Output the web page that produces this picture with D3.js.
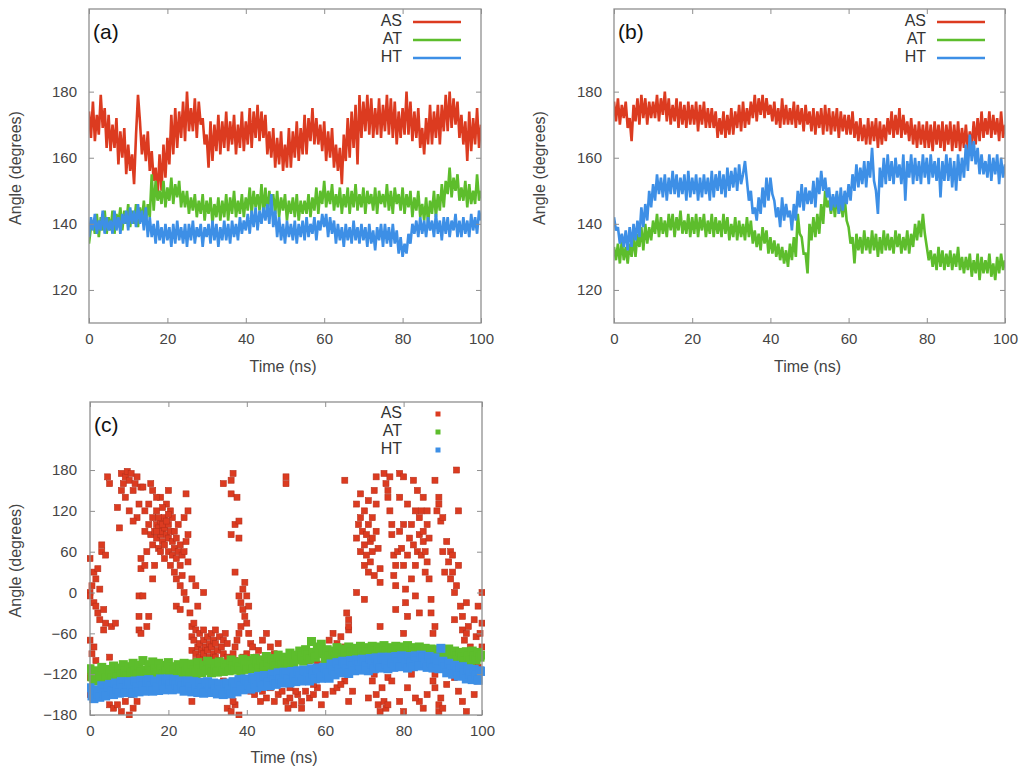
<!DOCTYPE html>
<html>
<head>
<meta charset="utf-8">
<script src="https://cdn.jsdelivr.net/npm/d3@7"></script>
<style>
  html, body { margin: 0; padding: 0; background: #fff; }
  svg { font-family: "Liberation Sans", Arial, sans-serif; }
</style>
</head>
<body>
<svg id="chart" width="1025" height="772"></svg>
<script>
// ---------------- DATA ----------------
const seriesNames = ["AS", "AT", "HT"];
const xTicks = [0, 20, 40, 60, 80, 100];
const yTicksAB = [120, 140, 160, 180];
const yTicksC = [-180, -120, -60, 0, 60, 120, 180];
const timeStep = 0.5; // ns between samples of the series below

// Panel (a)
const asA = [
174,166,177,165,173,167,179,169,175,163,
173,162,170,163,172,158,168,160,169,155,
164,156,161,152,167,179,171,161,167,159,
168,156,162,153,157,148,161,150,164,154,
166,158,173,161,175,163,174,166,177,165,
180,168,175,168,178,166,177,170,172,164,
167,157,171,159,170,162,173,161,171,163,
174,162,171,164,173,161,170,163,174,162,
171,164,175,163,174,166,176,165,174,166,
173,161,168,160,169,157,166,158,168,156,
164,157,169,157,168,160,171,159,169,161,
173,161,172,165,175,164,172,164,170,162,
171,159,168,160,169,157,164,156,163,152,
167,159,172,160,174,163,176,158,179,166,
177,168,179,167,178,166,175,167,178,166,
176,168,179,167,178,166,177,164,174,166,
175,167,180,167,177,165,174,166,175,163,
169,161,172,164,176,164,174,166,176,164,
176,168,179,168,180,169,178,170,177,166,
173,164,171,159,174,162,172,164,175,163,
170];
const atA = [
134,139,141,137,143,136,142,138,144,137,
142,138,144,137,143,140,145,138,144,140,
146,139,144,140,146,139,145,141,147,140,
146,142,155,144,153,147,150,146,153,145,
151,147,154,146,152,148,153,145,150,145,
150,143,148,144,149,142,147,143,149,141,
147,143,148,140,146,142,148,141,147,142,
149,141,148,143,150,142,147,143,149,142,
148,144,151,143,150,145,149,144,152,143,
151,143,150,145,149,143,150,142,148,144,
149,141,147,143,148,142,149,141,147,143,
147,143,149,142,148,144,151,143,150,146,
153,145,150,146,152,144,149,145,151,143,
149,145,151,143,150,145,152,144,149,145,
151,143,150,146,149,144,151,143,150,146,
149,145,152,144,150,143,151,146,149,144,
151,143,149,145,150,142,148,144,150,142,
146,141,148,140,147,143,150,142,149,144,
152,145,153,149,157,148,154,150,155,147,
151,147,153,145,152,146,150,146,155,147,
150];
const htA = [
136,142,138,143,137,141,138,144,137,142,
138,141,137,144,138,142,137,143,140,144,
138,145,140,144,139,146,140,144,138,145,
136,142,136,140,134,141,135,139,134,140,
135,139,133,140,134,141,135,139,134,140,
133,140,135,141,134,139,136,140,133,139,
136,140,134,141,135,140,133,139,135,141,
135,140,134,141,136,140,135,142,137,141,
138,143,137,144,139,145,138,144,140,145,
141,146,140,149,139,144,136,142,135,140,
134,141,136,140,135,141,134,140,136,141,
135,142,136,140,137,142,135,141,138,143,
139,143,136,142,137,141,134,140,135,139,
133,140,135,139,134,141,135,139,134,140,
135,139,133,140,134,138,132,139,135,140,
133,140,134,139,133,140,134,138,131,136,
130,134,131,137,134,140,137,141,136,142,
137,141,136,142,138,141,136,143,137,141,
135,142,137,142,136,141,138,143,136,141,
136,142,137,141,136,143,138,142,137,144,
141];

// Panel (b)
const asB = [
177,171,178,170,176,172,177,169,172,165,
176,171,178,170,179,172,178,170,177,172,
177,172,179,171,178,173,180,171,178,170,
176,171,178,169,177,170,176,169,177,170,
176,170,177,168,176,170,177,169,175,169,
175,169,174,166,172,167,174,166,173,167,
175,167,174,169,176,168,177,169,175,170,
177,172,179,171,178,173,179,172,178,173,
176,171,177,170,175,169,178,170,176,170,
175,170,177,169,176,170,175,168,176,170,
174,168,175,167,174,169,175,167,176,168,
175,167,174,168,175,166,174,168,173,167,
173,167,174,166,171,165,172,165,170,164,
172,164,171,165,172,163,171,164,170,165,
172,167,174,166,173,167,175,166,173,167,
171,165,172,164,170,163,171,164,170,163,
171,163,170,162,171,164,170,163,171,162,
170,164,171,162,170,163,171,162,169,163,
170,162,168,163,171,164,172,165,174,166,
172,167,174,166,173,167,172,165,174,166,
170];
const atB = [
133,129,134,128,135,129,133,128,134,130,
136,130,137,133,139,132,140,134,139,135,
141,137,143,136,142,137,141,136,143,138,
143,136,142,138,144,137,141,137,143,136,
142,137,143,136,142,138,143,136,141,137,
143,136,142,137,141,136,143,137,142,135,
140,136,142,135,141,136,140,135,142,136,
141,134,138,133,137,132,139,134,138,131,
136,131,135,130,134,129,133,128,132,127,
134,129,136,130,143,137,136,131,131,125,
140,135,142,136,143,137,146,140,150,145,
147,143,148,142,149,143,147,142,148,141,
139,134,136,128,137,132,136,131,138,132,
136,131,138,132,137,130,136,131,138,132,
137,132,136,131,138,133,137,131,136,132,
138,131,137,133,140,135,141,136,143,137,
133,129,132,127,131,126,133,127,132,126,
131,127,132,126,131,127,133,126,130,125,
130,126,131,124,129,125,131,123,130,125,
129,125,131,124,128,123,130,125,131,126,
129];
const htB = [
142,138,139,134,137,133,138,132,139,133,
140,135,141,136,145,139,146,141,150,145,
152,147,155,149,154,148,155,147,154,149,
156,149,155,148,154,149,155,147,156,148,
154,149,155,147,154,148,155,149,154,147,
156,148,155,150,156,149,155,148,157,150,
156,151,157,150,158,152,155,159,153,147,
150,143,145,141,148,143,151,145,154,147,
154,149,147,142,145,139,148,141,146,142,
144,138,146,141,150,145,152,144,151,146,
150,146,153,145,154,149,156,150,154,148,
151,144,149,145,150,143,151,144,150,146,
152,147,155,150,158,151,157,152,159,151,
159,154,163,153,150,143,157,151,160,152,
161,153,159,152,160,154,158,152,161,147,
159,154,161,152,160,153,159,152,161,154,
160,152,161,154,159,153,160,148,159,153,
161,153,160,151,159,150,161,153,160,154,
164,156,167,159,165,158,163,155,161,155,
159,154,161,153,160,155,161,152,160,154,
158];

// Panel (c): AT and HT sampled every timeStep; AS as scattered [time, angle] points
const atC = [
-112,-124,-130,-115,-121,-128,-110,-122,-126,-113,
-119,-125,-108,-117,-124,-111,-120,-106,-116,-123,
-109,-118,-104,-115,-121,-107,-117,-100,-114,-120,
-106,-116,-102,-112,-119,-104,-113,-120,-107,-115,
-103,-118,-109,-114,-121,-106,-113,-119,-104,-115,
-110,-121,-105,-114,-119,-103,-112,-118,-107,-115,
-101,-113,-118,-104,-112,-117,-102,-110,-116,-105,
-111,-115,-99,-108,-114,-102,-109,-116,-98,-107,
-113,-100,-106,-112,-97,-104,-111,-99,-105,-110,
-94,-102,-109,-97,-103,-108,-92,-100,-106,-95,
-101,-105,-89,-97,-104,-92,-99,-86,-94,-101,
-84,-92,-98,-72,-88,-95,-80,-90,-76,-87,
-97,-84,-93,-99,-86,-94,-81,-91,-96,-83,
-90,-95,-80,-88,-94,-82,-89,-95,-79,-87,
-93,-81,-88,-94,-79,-86,-92,-80,-87,-93,
-78,-86,-92,-81,-87,-93,-79,-85,-91,-80,
-87,-92,-78,-86,-93,-81,-88,-94,-80,-87,
-95,-82,-89,-95,-83,-90,-96,-84,-91,-97,
-85,-90,-97,-83,-92,-98,-86,-93,-99,-88,
-95,-101,-87,-94,-100,-86,-93,-99,-88,-95,
-92];
const htC = [
-140,-152,-156,-143,-149,-154,-137,-147,-152,-139,
-135,-145,-150,-133,-142,-148,-131,-141,-147,-134,
-131,-140,-148,-130,-139,-146,-129,-138,-145,-131,
-128,-137,-145,-130,-139,-144,-127,-136,-143,-129,
-127,-135,-143,-128,-136,-142,-130,-138,-145,-131,
-130,-139,-146,-131,-140,-147,-132,-141,-148,-133,
-131,-140,-147,-133,-142,-149,-134,-143,-150,-135,
-133,-142,-149,-131,-140,-146,-128,-137,-143,-127,
-128,-136,-142,-125,-134,-140,-123,-132,-138,-122,
-123,-131,-137,-120,-129,-135,-118,-127,-133,-117,
-119,-127,-133,-116,-124,-131,-115,-123,-130,-114,
-116,-124,-130,-112,-120,-127,-111,-119,-126,-110,
-111,-119,-126,-105,-114,-121,-103,-112,-118,-101,
-104,-112,-119,-100,-108,-115,-99,-107,-114,-98,
-100,-108,-115,-97,-105,-112,-96,-104,-111,-95,
-97,-105,-112,-95,-103,-110,-94,-102,-109,-93,
-96,-104,-111,-94,-102,-109,-93,-101,-108,-92,
-95,-103,-110,-94,-103,-111,-96,-104,-112,-82,
-101,-110,-118,-104,-112,-120,-107,-115,-123,-110,
-109,-118,-127,-112,-120,-128,-113,-121,-129,-115,
-116];
const asC = [
[0,50],[0,0],[0,-5],[0,-70],[0,-115],[0,-125],[0,-150],[0.5,10],[0.5,-90],[1,-15],[1,30],[1,-80],
[1.5,20],[1.5,-20],[1.5,-100],[2,35],[2,-30],[2.5,5],[2.5,-40],[3,60],[3,70],[3.5,-25],[3.5,-55],
[4,55],[4,-45],[4.5,170],[5,160],[5.5,-50],[5,-95],[6.5,-45],[5,-165],[6,-170],[7,-165],[8,-175],
[9,-160],[10,-180],[11,-170],[12,-160],[10.5,-150],[8.5,-140],[7,125],[7.5,95],[8,150],[8,175],
[8.5,160],[9,170],[9,140],[9.5,178],[10,165],[10,120],[10.5,175],[11,150],[11.5,160],[12,110],
[11,105],[12,170],[12.5,130],[13,155],[13,50],[13,35],[12.5,-5],[12.5,-35],[12.5,-55],[13.5,-5],[14,40],
[13.5,155],[14,120],[14,90],[14.5,60],[15,100],[15,130],[15.5,85],[15.5,160],[16,110],[16,70],[16,150],
[16.5,90],[16.5,40],[17,100],[17,80],[17,120],[17.5,95],[17.5,65],[18,105],[18,85],[18,60],[18,140],
[18.5,90],[18.5,75],[19,110],[19,95],[19,70],[19,50],[19.5,85],[19.5,130],[20,100],[20,80],[20,60],
[20,150],[20.5,90],[20.5,40],[21,75],[21,110],[21,55],[21.5,65],[21.5,30],[21.5,90],[22,50],[22,80],
[22,20],[22.5,60],[22.5,100],[23,40],[23,70],[23,10],[23.5,55],[23.5,25],[24,60],[24,110],[24,0],
[24.5,145],[24.5,75],[24.5,-10],[25,85],[25,45],[25,120],[20.5,120],[18.5,125],[17,140],[16,20],
[15,-35],[14.5,-50],[13,-60],[22,-20],[23,-25],[17.5,110],[18.5,100],[19.5,105],[17,90],[20,115],
[25.5,-30],[26,-50],[26,-65],[26,-85],[26.5,-70],[26.5,-45],[27,-55],[27,-90],[27,-100],[27.5,-80],
[27.5,-20],[28,-60],[28,-75],[28,-95],[28.5,-105],[28.5,-85],[29,-70],[29,-55],[29,-90],[29.5,-80],
[29.5,-100],[30,-65],[30,-85],[30,-110],[30.5,-75],[30.5,-95],[31,-60],[31,-80],[31,-105],[31.5,-90],
[31.5,-70],[32,-75],[32,-95],[32,-55],[32.5,-85],[33,-65],[33,-100],[33.5,-80],[34,-70],[34,-90],
[34.5,-60],[35,-75],[35,-95],[26,20],[27,10],[29,0],[25,-145],[26,-160],[27.5,-130],[29,-140],
[31,-135],[33,-150],[35,-170],[36,-175],[37,-165],[38,-180],[36.5,-160],[35.5,-145],[34,-130],
[34,160],[36,165],[36.5,175],[36,145],[37.5,140],[36,85],[37,100],[38,105],[38,80],[37,30],[38,-5],
[38.5,-15],[39,-25],[39.5,-35],[39,5],[39.5,15],[40,-45],[40,-5],[40.5,-60],[40.5,-20],[41,-75],
[38.5,-50],[38,-60],[37.5,-70],[37,-80],[36.5,-90],[37,-100],[38,-115],[39,-95],[39.5,-110],[40,-90],
[41,-100],[41.5,-80],[42,-110],[42.5,-95],[43,-85],[44,-70],[45,-60],[46,-80],[47,-90],[48,-75],
[44.5,-100],[46.5,-110],[43,-115],[40,-130],[41,-145],[42,-150],[43.5,-160],[44,-145],[45,-155],
[46,-140],[47,-160],[48,-150],[49,-145],[50,-160],[51,-155],[52,-165],[53,-150],[54,-160],[55,-145],
[50.5,-170],[52.5,-145],[54,-170],[56,-155],[57,-150],[58,-140],[59,-165],[60,-150],[48,-130],
[51,-140],[55,-130],[57,-135],[50,170],[50,160],[51,-110],[53,-115],[55,-95],[56,-100],[57,-115],
[58,-105],[59,-75],[60,-95],[58,-90],[56,-120],[57,-122],[61,-70],[62,-60],[63,-75],[64,-65],
[65,-80],[66,-55],[66,-40],[65.5,-30],[66,-50],[64,-90],[63,-95],[62,-145],[63,-140],[65,-130],
[66,-160],[67,-145],[64,-135],[65,165],[68,130],[68,80],[68.5,100],[69,60],[69,145],[69,110],
[69.5,90],[70,70],[70,120],[70,40],[70.5,85],[70.5,55],[71,100],[71,30],[71,135],[71.5,75],
[71.5,45],[72,60],[72,80],[72,110],[72.5,25],[72.5,150],[73,170],[73,90],[73,130],[73.5,65],
[74,35],[74,15],[74,-50],[68,0],[70,-10],[72,-130],[71,-155],[73,-150],[73.5,-165],[74,-175],
[74.5,-140],[75,-160],[75.5,-170],[72.5,-120],[75,-110],[76,-125],[75,175],[75.5,160],[76,140],
[76,150],[76.5,120],[76.5,170],[77,100],[77,85],[77.5,55],[77.5,25],[78,40],[78,10],[78,-25],
[78.5,60],[79,175],[79,140],[79,90],[79.5,65],[80,170],[80,40],[80,100],[80.5,5],[80.5,-15],
[81,55],[81,130],[81,-35],[81.5,80],[82,100],[82,20],[82.5,165],[82.5,70],[83,120],[83,40],
[83,-5],[83.5,150],[83.5,60],[84,85],[84,110],[84,-30],[84.5,55],[84.5,120],[85,75],[85,140],
[85,90],[85.5,60],[85.5,30],[86,120],[86,100],[86,45],[86.5,80],[86.5,20],[87,-10],[87,-30],
[87.5,-60],[87.5,-90],[88,-50],[88,-120],[88,-140],[89,-165],[89,-175],[89.5,-155],[88.5,120],
[89,140],[89.5,105],[90,60],[90.5,30],[90,110],[91,75],[91.5,45],[92,60],[92,20],[92.5,55],
[92.5,30],[93,0],[93,-40],[93.5,10],[93.5,180],[94,120],[94,40],[94.5,-20],[95,-55],[95,-35],
[95.5,-70],[96,-60],[96,-15],[96.5,-50],[97,-80],[97,-95],[97.5,-110],[98,-40],[98.5,-65],[99,-20],
[99,-90],[99.5,-60],[100,0],[100,-45],[100,-80],[99,-130],[98,-150],[97,-120],[96,-175],[95,-160],
[94,-145],[93,-125],[92,-100],[91,-135],[90,-170],[86,-150],[85,-170],[84,-160],[83,-155],[82,-120],
[81,-140],[80,-175],[79,-160],[78,-110],[77,-130],[76,-165],[88,165],[89,130],[83,-95],[80,-60],
[84,-100],[87.5,-130],[99,-110]
];

// ---------------- STYLE ----------------
const colors = { AS: "#dc3b20", AT: "#5dbd2c", HT: "#3d8fe6" };
const axisColor = "#8f8f8f";
const textColor = "#444";

const svg = d3.select("#chart");

function frameAndAxes(g, x, y, w, h, yTicks, yPad) {
  const bottom = d3.axisBottom(x).tickValues(xTicks).tickSizeInner(-5).tickSizeOuter(0).tickPadding(10);
  const top = d3.axisTop(x).tickValues(xTicks).tickSizeInner(-5).tickSizeOuter(0).tickFormat("");
  const left = d3.axisLeft(y).tickValues(yTicks).tickSizeInner(-5).tickSizeOuter(0).tickPadding(yPad);
  const right = d3.axisRight(y).tickValues(yTicks).tickSizeInner(-5).tickSizeOuter(0).tickFormat("");
  const gb = g.append("g").attr("transform", `translate(0,${h})`).call(bottom);
  const gt = g.append("g").call(top);
  const gl = g.append("g").call(left);
  const gr = g.append("g").attr("transform", `translate(${w},0)`).call(right);
  [gb, gt, gl, gr].forEach(a => {
    a.select(".domain").remove();
    a.selectAll(".tick line").attr("stroke", axisColor);
    a.selectAll(".tick text").attr("fill", textColor).style("font-size", "15px")
      .style("font-family", "'Liberation Sans', Arial, sans-serif");
  });
  g.append("rect").attr("x", 0).attr("y", 0).attr("width", w).attr("height", h)
    .attr("fill", "none").attr("stroke", axisColor).attr("stroke-width", 1.3);
}

function titles(g, w, h, label, yTitleX, xTitleY) {
  g.append("text").attr("x", w / 2 - 2).attr("y", xTitleY).attr("text-anchor", "middle")
    .attr("fill", textColor).style("font-size", "16px").text("Time (ns)");
  g.append("text").attr("transform", `translate(${yTitleX},${h / 2 + 2}) rotate(-90)`)
    .attr("text-anchor", "middle").attr("fill", textColor).style("font-size", "16px").text("Angle (degrees)");
  g.append("text").attr("x", 4).attr("y", 30).attr("fill", "#111").style("font-size", "21px").text(label);
}

function linePanel(left, top, w, h, label, data, yTitleX) {
  const g = svg.append("g").attr("transform", `translate(${left},${top})`);
  const x = d3.scaleLinear().domain([0, 100]).range([0, w]);
  const y = d3.scaleLinear().domain([110, 205]).range([h, 0]);
  const line = d3.line().x((d, i) => x(i * timeStep)).y(d => y(d));
  const cid = "clip" + label.replace(/\W/g, "");
  g.append("defs").append("clipPath").attr("id", cid)
    .append("rect").attr("width", w).attr("height", h);
  const plot = g.append("g").attr("clip-path", `url(#${cid})`);
  seriesNames.forEach(s => {
    plot.append("path").datum(data[s]).attr("d", line).attr("fill", "none")
      .attr("stroke", colors[s]).attr("stroke-width", 2.6).attr("stroke-linejoin", "miter")
      .attr("stroke-miterlimit", 2);
  });
  frameAndAxes(g, x, y, w, h, yTicksAB, 12);
  titles(g, w, h, label, yTitleX, 49 + h);
  // legend
  seriesNames.forEach((s, i) => {
    const ly = 13 + i * 18;
    g.append("text").attr("x", w - 79).attr("y", ly + 4).attr("text-anchor", "end")
      .attr("fill", "#333").style("font-size", "16px").text(s);
    g.append("line").attr("x1", w - 68).attr("x2", w - 20).attr("y1", ly).attr("y2", ly)
      .attr("stroke", colors[s]).attr("stroke-width", 2.6);
  });
}

linePanel(89, 9, 392, 314, "(a)", { AS: asA, AT: atA, HT: htA }, -68);
linePanel(614, 9, 391, 314, "(b)", { AS: asB, AT: atB, HT: htB }, -69);

// Panel (c)
(function () {
  const left = 90, top = 402, w = 392, h = 313;
  const g = svg.append("g").attr("transform", `translate(${left},${top})`);
  const x = d3.scaleLinear().domain([0, 100]).range([0, w]);
  const y = d3.scaleLinear().domain([-180, 280]).range([h, 0]);
  g.append("defs").append("clipPath").attr("id", "clipc")
    .append("rect").attr("x", -3).attr("y", 0).attr("width", w + 6).attr("height", h + 3);
  const plot = g.append("g").attr("clip-path", "url(#clipc)");
  const sz = 6, bandSz = 9;
  plot.selectAll("rect.as").data(asC).join("rect").attr("class", "as")
    .attr("x", d => x(d[0]) - sz / 2).attr("y", d => y(d[1]) - sz / 2)
    .attr("width", sz).attr("height", sz).attr("fill", colors.AS)
    .attr("stroke", "#b8301b").attr("stroke-width", 0.6);
  [["AT", atC], ["HT", htC]].forEach(([s, arr]) => {
    plot.selectAll("rect." + s).data(arr).join("rect").attr("class", s)
      .attr("x", (d, i) => x(i * timeStep) - bandSz / 2).attr("y", d => y(d) - bandSz / 2)
      .attr("width", bandSz).attr("height", bandSz).attr("fill", colors[s]);
  });
  frameAndAxes(g, x, y, w, h, yTicksC, 13);
  titles(g, w, h, "(c)", -69, 48 + h);
  seriesNames.forEach((s, i) => {
    const ly = 12 + i * 18;
    g.append("text").attr("x", w - 80).attr("y", ly + 4).attr("text-anchor", "end")
      .attr("fill", "#333").style("font-size", "16px").text(s);
    g.append("rect").attr("x", w - 46.5).attr("y", ly - 2.5).attr("width", 5).attr("height", 5)
      .attr("fill", colors[s]);
  });
})();
</script>
</body>
</html>
